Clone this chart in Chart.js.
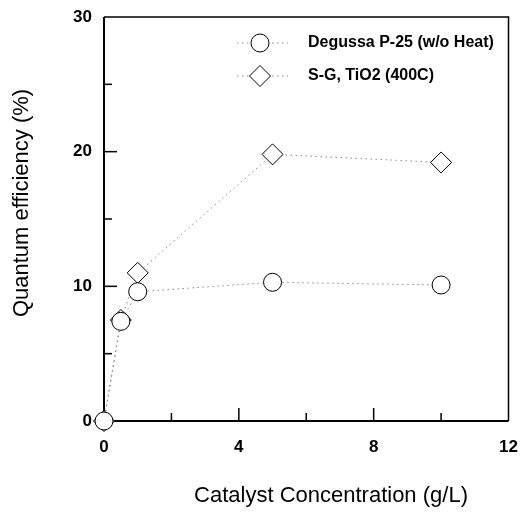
<!DOCTYPE html>
<html>
<head>
<meta charset="utf-8">
<script src="https://cdn.jsdelivr.net/npm/chart.js@4.4.0/dist/chart.umd.min.js"></script>
<style>
  html, body { margin: 0; padding: 0; background: #fff; }
  canvas { display: block; }
</style>
</head>
<body>
<canvas id="chart" width="520" height="513"></canvas>
<script>
// ── Data ─────────────────────────────────────────────────
const concentration = [0, 0.5, 1, 5, 10];            // g/L
const degussaQE     = [0, 7.4, 9.6, 10.3, 10.1];     // %
const sgQE          = [0, 7.5, 11.0, 19.8, 19.2];    // %
const seriesNames   = ['Degussa P-25 (w/o Heat)', 'S-G, TiO2 (400C)'];

const xTicks      = [0, 4, 8, 12];
const yTicks      = [0, 10, 20, 30];
const xMinorTicks = [2, 6, 10];
const yMinorTicks = [5, 15, 25];
const xTitle = 'Catalyst Concentration (g/L)';
const yTitle = 'Quantum efficiency (%)';

const FONT = '"Liberation Sans", Arial, sans-serif';
const toPoints = ys => concentration.map((x, i) => ({ x, y: ys[i] }));

const lineStyle = {
    showLine:             true,
    borderColor:          '#888',
    borderWidth:          1,
    borderDash:           [1.5, 3.5],
    pointBackgroundColor: '#fff',
    pointBorderColor:     '#000',
    pointBorderWidth:     1,
    clip:                 false
};

// ── Frame, inner ticks, titles and legend ────────────────
const decorations = {
    id: 'decorations',
    beforeDatasetsDraw(chart) {
        const { ctx, chartArea: a, scales: { x, y } } = chart;
        ctx.save();
        ctx.strokeStyle = '#000';
        ctx.lineWidth = 1.5;
        ctx.beginPath();
        ctx.moveTo(a.left, a.top);  ctx.lineTo(a.right, a.top);  ctx.lineTo(a.right, a.bottom);
        ctx.stroke();
        ctx.lineWidth = 2;
        ctx.beginPath();
        ctx.moveTo(a.left, a.top);  ctx.lineTo(a.left, a.bottom);  ctx.lineTo(a.right, a.bottom);
        ctx.stroke();

        ctx.lineWidth = 1.5;
        const tick = (px, py, dx, dy) => { ctx.beginPath(); ctx.moveTo(px, py); ctx.lineTo(px + dx, py + dy); ctx.stroke(); };
        yTicks.slice(1, -1).forEach(v => tick(a.left, y.getPixelForValue(v), 13, 0));
        yMinorTicks.forEach(v => tick(a.left, y.getPixelForValue(v), 8, 0));
        xTicks.slice(1, -1).forEach(v => tick(x.getPixelForValue(v), a.bottom, 0, -13));
        xMinorTicks.forEach(v => tick(x.getPixelForValue(v), a.bottom, 0, -8));
        ctx.restore();
    },
    afterDraw(chart) {
        const { ctx, chartArea: a } = chart;
        ctx.save();
        ctx.fillStyle = '#000';
        ctx.textBaseline = 'middle';
        ctx.textAlign = 'center';
        ctx.font = '22px ' + FONT;
        ctx.fillText(xTitle, 331, 496);
        ctx.translate(22, 203);
        ctx.rotate(-Math.PI / 2);
        ctx.fillText(yTitle, 0, 0);
        ctx.restore();

        // legend inside the plot, top right
        chart.data.datasets.forEach((ds, i) => {
            const ly = a.top + 26 + i * 33;
            ctx.save();
            ctx.strokeStyle = ds.borderColor;
            ctx.lineWidth = 1;
            ctx.setLineDash(ds.borderDash);
            ctx.beginPath();
            ctx.moveTo(237, ly);  ctx.lineTo(288, ly);
            ctx.stroke();
            ctx.setLineDash([]);
            ctx.fillStyle = '#fff';
            ctx.strokeStyle = '#000';
            Chart.helpers.drawPoint(ctx, { pointStyle: ds.pointStyle, radius: ds.pointRadius, borderWidth: 1, rotation: 0 }, 260, ly);
            ctx.fillStyle = '#000';
            ctx.font = 'bold 16px ' + FONT;
            ctx.textAlign = 'left';
            ctx.textBaseline = 'middle';
            ctx.fillText(ds.label, 308, ly);
            ctx.restore();
        });
    }
};

new Chart(document.getElementById('chart'), {
    type: 'scatter',
    data: {
        datasets: [
            { ...lineStyle, label: seriesNames[0], data: toPoints(degussaQE), pointStyle: 'circle',  pointRadius: 9 },
            { ...lineStyle, label: seriesNames[1], data: toPoints(sgQE),      pointStyle: 'rectRot', pointRadius: 10.5 }
        ]
    },
    options: {
        responsive: false,
        animation:  false,
        layout: { padding: { top: 17, right: 8, left: 0, bottom: 0 } },
        plugins: { legend: { display: false }, tooltip: { enabled: false } },
        scales: {
            x: {
                type: 'linear', min: 0, max: 12,
                afterBuildTicks: s => { s.ticks = xTicks.map(v => ({ value: v })); },
                afterFit: s => { s.height = 92; s.paddingLeft = 0; s.paddingRight = 0; },
                grid:   { display: false, drawTicks: false },
                border: { display: false },
                ticks:  { color: '#000', padding: 16, maxRotation: 0, font: { family: FONT, size: 17, weight: 'bold' } }
            },
            y: {
                type: 'linear', min: 0, max: 30,
                afterBuildTicks: s => { s.ticks = yTicks.map(v => ({ value: v })); },
                afterFit: s => { s.width = 104; s.paddingTop = 0; s.paddingBottom = 0; },
                grid:   { display: false, drawTicks: false },
                border: { display: false },
                ticks:  { color: '#000', padding: 12, font: { family: FONT, size: 17, weight: 'bold' } }
            }
        }
    },
    plugins: [decorations]
});
</script>
</body>
</html>
